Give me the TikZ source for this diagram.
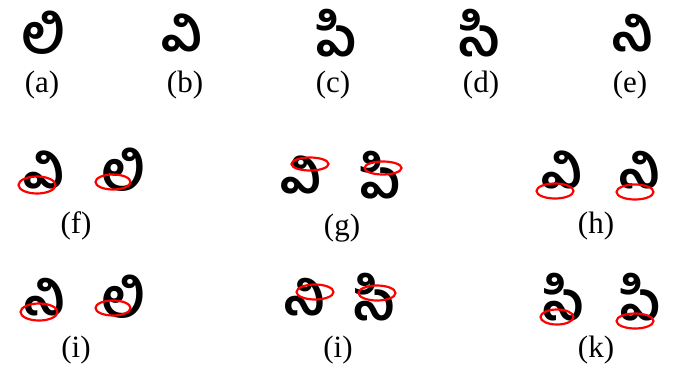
\documentclass[tikz,border=0pt]{standalone}
\usepackage{fontspec}
\setmainfont{Liberation Serif}
\newfontfamily\telugu[Script=Telugu]{Hind Guntur}
\begin{document}
\begin{tikzpicture}[x=1pt,y=-1pt,
  glyph/.style={anchor=center,inner sep=0pt,font=\telugu\bfseries\fontsize{54}{54}\selectfont},
  caption/.style={anchor=center,inner sep=0pt,font=\fontsize{31}{31}\selectfont},
  hilite/.style={draw=red,line width=2.2pt}]
\useasboundingbox (0,0) rectangle (678,365);

\node[glyph] (la) at (43, 33) {లి};
\node[glyph] (va) at (182, 33) {వి};
\node[glyph] (pa) at (337, 33) {పి};
\node[glyph] (sa) at (480, 33) {సి};
\node[glyph] (na) at (632, 33) {ని};

\node[caption] (capa) at (42, 85) {(a)};
\node[caption] (capb) at (185, 85) {(b)};
\node[caption] (capc) at (333, 85) {(c)};
\node[caption] (capd) at (481, 85) {(d)};
\node[caption] (cape) at (630, 85) {(e)};

\node[glyph] (f1) at (44, 170) {వి};
\node[glyph] (f2) at (123, 170) {లి};
\node[glyph] (g1) at (301, 175) {వి};
\node[glyph] (g2) at (381, 175) {పి};
\node[glyph] (h1) at (562, 170) {వి};
\node[glyph] (h2) at (639, 170) {ని};

\draw[hilite] (37, 185) ellipse (18.5 and 8.5);
\draw[hilite] (113, 182) ellipse (17.5 and 7.5);
\draw[hilite] (310, 164) ellipse (18.5 and 6.5);
\draw[hilite] (383, 168) ellipse (18.5 and 6.5);
\draw[hilite] (555, 191) ellipse (18.5 and 7.5);
\draw[hilite] (635, 192) ellipse (18.5 and 7.5);

\node[caption] (capf) at (76, 226) {(f)};
\node[caption] (capg) at (342, 228) {(g)};
\node[caption] (caph) at (596, 226) {(h)};

\node[glyph] (i1) at (44, 297) {ని};
\node[glyph] (i2) at (123, 297) {లి};
\node[glyph] (j1) at (304, 297) {ని};
\node[glyph] (j2) at (375, 297) {సి};
\node[glyph] (k1) at (564, 297) {సి};
\node[glyph] (k2) at (641, 297) {పి};

\draw[hilite] (39, 312) ellipse (18.5 and 8.5);
\draw[hilite] (113, 308) ellipse (17.5 and 7.5);
\draw[hilite] (315, 292) ellipse (18.5 and 7.5);
\draw[hilite] (377, 293) ellipse (18.5 and 7.5);
\draw[hilite] (557, 317) ellipse (16.5 and 7.5);
\draw[hilite] (635, 321) ellipse (18.5 and 7.5);

\node[caption] (capi) at (76, 350) {(i)};
\node[caption] (capj) at (338, 350) {(i)};
\node[caption] (capk) at (596, 350) {(k)};
\end{tikzpicture}
\end{document}
